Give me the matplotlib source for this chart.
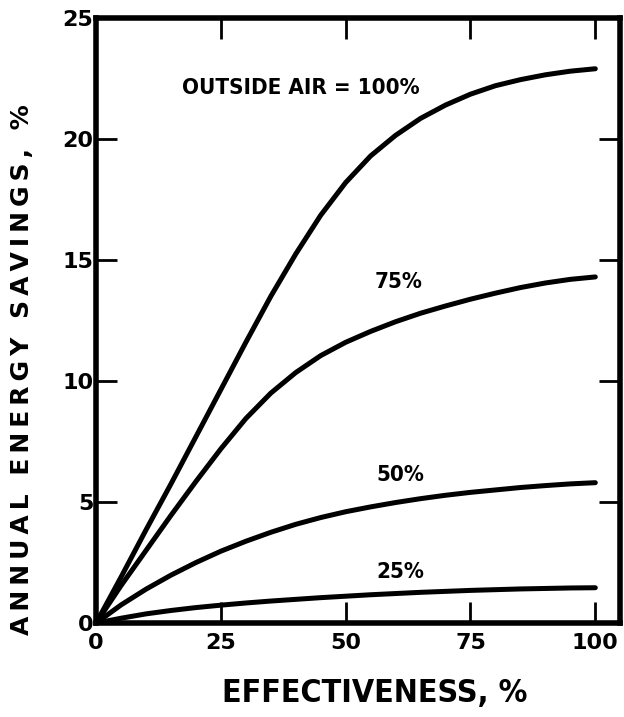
import matplotlib.pyplot as plt
from matplotlib import font_manager

# effectiveness, % and annual energy savings, % for each outside air fraction
effectiveness = [0, 5, 10, 15, 20, 25, 30, 35, 40, 45, 50, 55, 60, 65, 70, 75, 80, 85, 90, 95, 100]
air_100 = [0, 1.9, 3.85, 5.75, 7.7, 9.65, 11.6, 13.5, 15.25, 16.85, 18.2, 19.3, 20.15,
           20.85, 21.4, 21.85, 22.2, 22.45, 22.65, 22.8, 22.9]
air_75 = [0, 1.55, 3.0, 4.45, 5.85, 7.2, 8.45, 9.5, 10.35, 11.05, 11.6, 12.05, 12.45,
          12.8, 13.1, 13.38, 13.63, 13.86, 14.05, 14.2, 14.3]
air_50 = [0, 0.75, 1.4, 1.98, 2.5, 2.97, 3.38, 3.75, 4.08, 4.36, 4.6, 4.8, 4.98,
          5.14, 5.28, 5.4, 5.5, 5.6, 5.68, 5.75, 5.8]
air_25 = [0, 0.2, 0.38, 0.52, 0.64, 0.74, 0.83, 0.91, 0.98, 1.05, 1.11, 1.17, 1.22,
          1.27, 1.31, 1.35, 1.38, 1.41, 1.43, 1.45, 1.46]

curve_labels = ["OUTSIDE AIR = 100%", "75%", "50%", "25%"]
xticks = [0, 25, 50, 75, 100]
yticks = [0, 5, 10, 15, 20, 25]

names = {f.name for f in font_manager.fontManager.ttflist}
narrow = "Liberation Sans Narrow" if "Liberation Sans Narrow" in names else "DejaVu Sans"

fig = plt.figure(figsize=(6.24, 7.17), dpi=100)
ax = fig.add_axes([0.154, 0.131, 0.84, 0.844])

for ys in (air_100, air_75, air_50, air_25):
    ax.plot(effectiveness, ys, color="black", lw=3.6, solid_capstyle="round",
            solid_joinstyle="round")

ax.set_xlim(0, 105)
ax.set_ylim(0, 25)
ax.set_xticks(xticks)
ax.set_yticks(yticks)
ax.set_xticklabels([str(t) for t in xticks], fontsize=16, fontweight="bold")
ax.set_yticklabels([str(t) for t in yticks], fontsize=16, fontweight="bold")
ax.tick_params(direction="in", length=15, width=2, top=True, right=True, pad=2)
ax.tick_params(axis="x", pad=7)
for s in ax.spines.values():
    s.set_linewidth(4)
ax.yaxis.get_majorticklines()[-2].set_visible(False)
ax.yaxis.get_majorticklines()[-1].set_visible(False)
ax.xaxis.get_majorticklines()[0].set_visible(False)
ax.xaxis.get_majorticklines()[1].set_visible(False)

pos = [(41, 22.1), (60.5, 14.1), (61, 6.1), (61, 2.1)]
for lab, (x, y) in zip(curve_labels, pos):
    ax.text(x, y, lab, ha="center", va="center", fontsize=16, fontweight="bold",
            family=narrow, fontstretch="condensed")

ylab = "\u2009".join("ANNUAL ENERGY SAVINGS, %")
fig.text(0.035, 0.484, ylab, rotation=90, ha="center", va="center", fontsize=18,
         fontweight="bold")
fig.text(0.6, 0.033, "EFFECTIVENESS, %", ha="center", va="center", fontsize=23,
         fontweight="bold", family=narrow, fontstretch="condensed")

fig.savefig("out.png", dpi=100)
